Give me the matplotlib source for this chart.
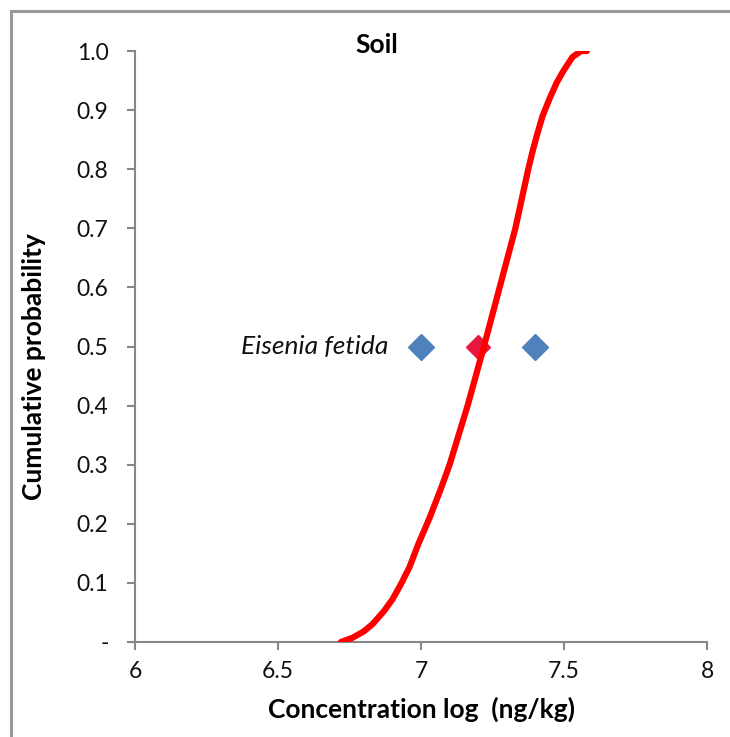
import matplotlib
matplotlib.use("Agg")
import matplotlib.pyplot as plt
from matplotlib.patches import Rectangle

# Data
curve_x = [6.72, 6.76, 6.80, 6.83, 6.87, 6.90, 6.93, 6.96, 6.99, 7.03, 7.07,
           7.10, 7.163, 7.22, 7.275, 7.33, 7.375, 7.39, 7.405, 7.425, 7.45,
           7.475, 7.50, 7.53, 7.56, 7.58]
curve_y = [0.0, 0.007, 0.018, 0.03, 0.052, 0.072, 0.098, 0.127, 0.165, 0.21, 0.26,
           0.30, 0.40, 0.50, 0.60, 0.70, 0.80, 0.83, 0.857, 0.89, 0.92,
           0.947, 0.968, 0.99, 1.0, 1.0]
blue_x = [7.0, 7.4]
blue_y = [0.5, 0.5]
red_x = [7.2]
red_y = [0.5]
species_label = "Eisenia fetida"
x_ticks = [6, 6.5, 7, 7.5, 8]
x_ticklabels = ["6", "6.5", "7", "7.5", "8"]
y_ticks = [0, 0.1, 0.2, 0.3, 0.4, 0.5, 0.6, 0.7, 0.8, 0.9, 1.0]
y_ticklabels = ["-", "0.1", "0.2", "0.3", "0.4", "0.5", "0.6", "0.7", "0.8", "0.9", "1.0"]

plt.rcParams['font.family'] = ['Lato', 'DejaVu Sans']

W, H = 730, 737
fig = plt.figure(figsize=(W / 100, H / 100), dpi=100)
ax = fig.add_axes([135 / W, 1 - 642 / H, (707 - 135) / W, (642 - 51) / H])

# figure border (gray frame)
fig.patches.append(Rectangle((11 / W, -0.1), 1.2, 1 - 11 / H + 0.1,
                             transform=fig.transFigure, fill=False,
                             edgecolor='#999999', linewidth=2.2, zorder=0))

ax.plot(curve_x, curve_y, color='#FF0000', linewidth=4.5,
        solid_capstyle='round', solid_joinstyle='round', zorder=3)
ax.plot(blue_x, blue_y, linestyle='none', marker='D', markersize=13,
        color='#4F81BD', zorder=2)
ax.plot(red_x, red_y, linestyle='none', marker='D', markersize=12,
        color='#E8173F', zorder=2)

ax.text(6.885, 0.5, species_label, ha='right', va='center',
        fontsize=19, style='italic', color='#111111')

ax.set_xlim(6, 8)
ax.set_ylim(0, 1)
ax.set_xticks(x_ticks)
ax.set_xticklabels(x_ticklabels)
ax.set_yticks(y_ticks)
ax.set_yticklabels(y_ticklabels)

for s in ['top', 'right']:
    ax.spines[s].set_visible(False)
for s in ['left', 'bottom']:
    ax.spines[s].set_color('#888888')
    ax.spines[s].set_linewidth(1.5)

ax.tick_params(axis='both', direction='out', length=6, width=1.5,
               color='#888888', labelsize=16.5, labelcolor='#111111')
ax.tick_params(axis='x', pad=8)
ax.tick_params(axis='y', pad=13)

ax.set_xlabel("Concentration log  (ng/kg)", fontsize=19, fontweight='bold',
              labelpad=10)
ax.set_ylabel("Cumulative probability", fontsize=19, fontweight='bold')
ax.yaxis.set_label_coords((46 - 135) / (707 - 135), (642 - 367) / (642 - 51))

fig.text(377 / W, 1 - 45 / H, "Soil", ha='center', va='center',
         fontsize=19, fontweight='bold')

fig.savefig("out.png", dpi=100)
